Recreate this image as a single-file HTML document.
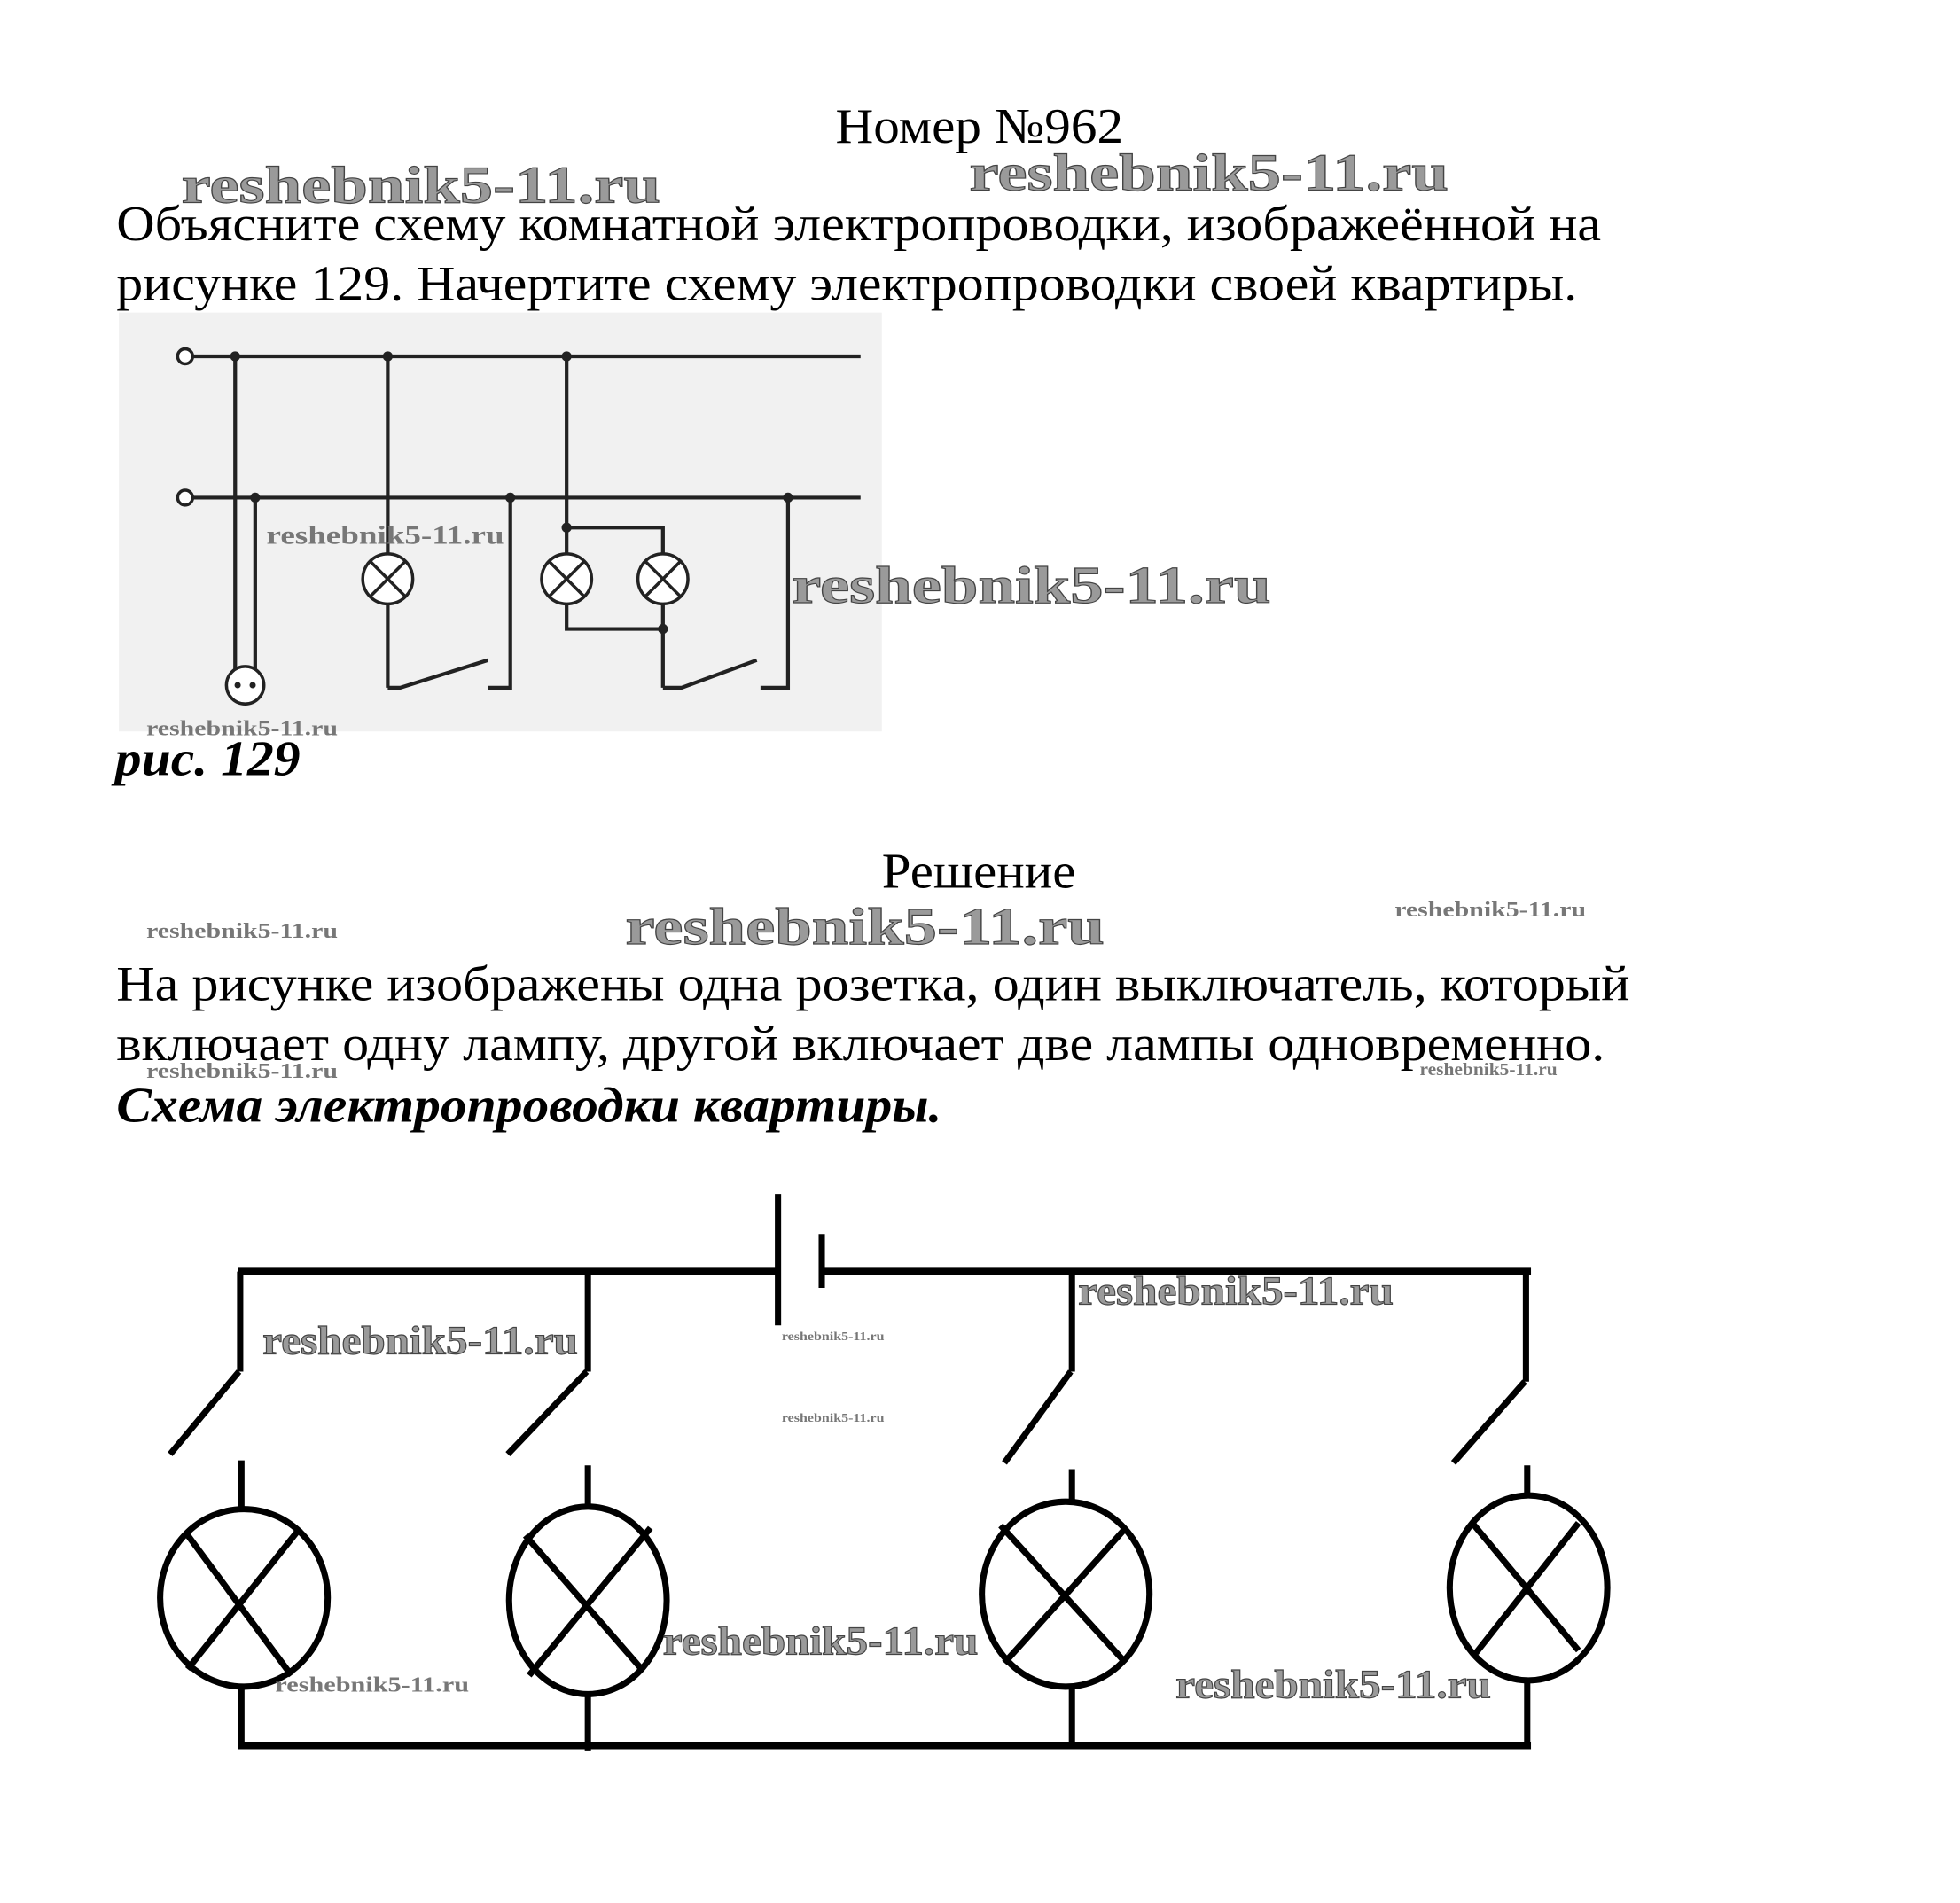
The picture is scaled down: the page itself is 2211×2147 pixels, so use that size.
<!DOCTYPE html>
<html><head><meta charset="utf-8"><style>
html,body{margin:0;padding:0;background:#fff}
svg{display:block}
.t{font-family:"Liberation Serif",serif;fill:#000}
.w{font-family:"Liberation Serif",serif;font-weight:bold;fill:#9a9a9a;stroke:#444;stroke-width:0.8}
.ws{font-family:"Liberation Serif",serif;font-weight:bold;fill:#777}
</style></head><body>
<svg width="2211" height="2147" viewBox="0 0 1567 1522" preserveAspectRatio="none" xmlns="http://www.w3.org/2000/svg">
<rect width="1567" height="1522" fill="#fff"/>
<text class="t" x="668" y="114" font-size="40" textLength="230" lengthAdjust="spacingAndGlyphs">Номер №962</text>
<text class="w" x="145" y="162" font-size="42" textLength="383" lengthAdjust="spacingAndGlyphs">reshebnik5-11.ru</text>
<text class="w" x="775" y="152" font-size="42" textLength="383" lengthAdjust="spacingAndGlyphs">reshebnik5-11.ru</text>
<text class="t" x="93" y="192" font-size="40" textLength="1187" lengthAdjust="spacingAndGlyphs">Объясните схему комнатной электропроводки, изображеённой на</text>
<text class="t" x="93" y="240" font-size="40" textLength="1168" lengthAdjust="spacingAndGlyphs">рисунке 129. Начертите схему электропроводки своей квартиры.</text>

<rect x="95" y="250" width="610" height="335" fill="#f1f1f1"/>
<g stroke="#222" stroke-width="3" fill="none">
<line x1="154" y1="285" x2="688" y2="285"/>
<line x1="154" y1="398" x2="688" y2="398"/>
<line x1="188" y1="285" x2="188" y2="535"/>
<line x1="204" y1="398" x2="204" y2="535"/>
<line x1="310" y1="285" x2="310" y2="443"/>
<line x1="310" y1="483" x2="310" y2="550"/>
<polyline points="310,550 320,550 390,528"/>
<polyline points="390,550 408,550 408,398"/>
<line x1="453" y1="285" x2="453" y2="443"/>
<polyline points="453,422 530,422 530,443"/>
<polyline points="453,483 453,503 530,503 530,483"/>
<line x1="530" y1="503" x2="530" y2="550"/>
<polyline points="530,550 545,550 605,528"/>
<polyline points="608,550 630,550 630,398"/>
</g>
<g stroke="#222" stroke-width="2.5" fill="#fff">
<circle cx="148" cy="285" r="6"/><circle cx="148" cy="398" r="6"/>
<circle cx="196" cy="548" r="15"/>
<circle cx="310" cy="463" r="20"/><circle cx="453" cy="463" r="20"/><circle cx="530" cy="463" r="20"/>
</g>
<g stroke="#222" stroke-width="2.5">
<line x1="296" y1="449" x2="324" y2="477"/><line x1="324" y1="449" x2="296" y2="477"/>
<line x1="439" y1="449" x2="467" y2="477"/><line x1="467" y1="449" x2="439" y2="477"/>
<line x1="516" y1="449" x2="544" y2="477"/><line x1="544" y1="449" x2="516" y2="477"/>
</g>
<g fill="#222"><circle cx="188" cy="285" r="4"/><circle cx="310" cy="285" r="4"/><circle cx="453" cy="285" r="4"/>
<circle cx="204" cy="398" r="4"/><circle cx="408" cy="398" r="4"/><circle cx="630" cy="398" r="4"/>
<circle cx="453" cy="422" r="4"/><circle cx="530" cy="503" r="4"/>
<circle cx="190" cy="548" r="2.5"/><circle cx="202" cy="548" r="2.5"/></g>
<text class="ws" x="213" y="435" font-size="21" textLength="190" lengthAdjust="spacingAndGlyphs">reshebnik5-11.ru</text>
<text class="w" x="633" y="482" font-size="42" textLength="383" lengthAdjust="spacingAndGlyphs">reshebnik5-11.ru</text>
<text class="ws" x="117" y="588" font-size="17" textLength="153" lengthAdjust="spacingAndGlyphs">reshebnik5-11.ru</text>
<text class="t" x="92" y="620" font-size="40" font-weight="bold" font-style="italic" textLength="148" lengthAdjust="spacingAndGlyphs">рис. 129</text>

<text class="t" x="705" y="710" font-size="40" textLength="155" lengthAdjust="spacingAndGlyphs">Решение</text>
<text class="ws" x="117" y="750" font-size="17" textLength="153" lengthAdjust="spacingAndGlyphs">reshebnik5-11.ru</text>
<text class="w" x="500" y="755" font-size="42" textLength="383" lengthAdjust="spacingAndGlyphs">reshebnik5-11.ru</text>
<text class="ws" x="1115" y="733" font-size="17" textLength="153" lengthAdjust="spacingAndGlyphs">reshebnik5-11.ru</text>
<text class="t" x="93" y="800" font-size="40" textLength="1210" lengthAdjust="spacingAndGlyphs">На рисунке изображены одна розетка, один выключатель, который</text>
<text class="t" x="93" y="848" font-size="40" textLength="1190" lengthAdjust="spacingAndGlyphs">включает одну лампу, другой включает две лампы одновременно.</text>
<text class="ws" x="117" y="862" font-size="17" textLength="153" lengthAdjust="spacingAndGlyphs">reshebnik5-11.ru</text>
<text class="ws" x="1135" y="860" font-size="14" textLength="110" lengthAdjust="spacingAndGlyphs">reshebnik5-11.ru</text>
<text class="t" x="93" y="897" font-size="40" font-weight="bold" font-style="italic" textLength="660" lengthAdjust="spacingAndGlyphs">Схема электропроводки квартиры.</text>

<g stroke="#000" stroke-width="5" fill="none">
<line x1="190" y1="1017" x2="622" y2="1017" stroke-width="6"/>
<line x1="657" y1="1017" x2="1224" y2="1017" stroke-width="6"/>
<line x1="622" y1="955" x2="622" y2="1060"/>
<line x1="657" y1="987" x2="657" y2="1030"/>
<line x1="190" y1="1396" x2="1224" y2="1396" stroke-width="6"/>
<line x1="192" y1="1017" x2="192" y2="1097"/>
<line x1="470" y1="1017" x2="470" y2="1097"/>
<line x1="857" y1="1017" x2="857" y2="1097"/>
<line x1="1220" y1="1017" x2="1220" y2="1105"/>
<line x1="191" y1="1097" x2="136" y2="1163"/>
<line x1="469" y1="1097" x2="406" y2="1163"/>
<line x1="856" y1="1097" x2="803" y2="1170"/>
<line x1="1219" y1="1105" x2="1162" y2="1170"/>
<line x1="193" y1="1168" x2="193" y2="1207"/>
<line x1="470" y1="1172" x2="470" y2="1206"/>
<line x1="857" y1="1175" x2="857" y2="1202"/>
<line x1="1221" y1="1172" x2="1221" y2="1197"/>
<line x1="193" y1="1350" x2="193" y2="1396"/>
<line x1="470" y1="1355" x2="470" y2="1400"/>
<line x1="857" y1="1350" x2="857" y2="1396"/>
<line x1="1221" y1="1345" x2="1221" y2="1396"/>
<ellipse cx="195" cy="1278" rx="67" ry="71"/>
<ellipse cx="470" cy="1280" rx="63" ry="75"/>
<ellipse cx="852" cy="1275" rx="67" ry="74"/>
<ellipse cx="1222" cy="1270" rx="63" ry="74"/>
<line x1="148" y1="1225" x2="233" y2="1340"/><line x1="240" y1="1222" x2="150" y2="1335"/>
<line x1="420" y1="1228" x2="513" y2="1335"/><line x1="520" y1="1222" x2="423" y2="1340"/>
<line x1="800" y1="1220" x2="900" y2="1330"/><line x1="900" y1="1222" x2="803" y2="1330"/>
<line x1="1177" y1="1218" x2="1262" y2="1320"/><line x1="1262" y1="1218" x2="1180" y2="1322"/>
</g>
<text class="w" x="210" y="1083" font-size="32" textLength="252" lengthAdjust="spacingAndGlyphs">reshebnik5-11.ru</text>
<text class="ws" x="625" y="1072" font-size="10" textLength="82" lengthAdjust="spacingAndGlyphs">reshebnik5-11.ru</text>
<text class="ws" x="625" y="1137" font-size="10" textLength="82" lengthAdjust="spacingAndGlyphs">reshebnik5-11.ru</text>
<text class="w" x="862" y="1043" font-size="32" textLength="252" lengthAdjust="spacingAndGlyphs">reshebnik5-11.ru</text>
<text class="w" x="530" y="1323" font-size="32" textLength="252" lengthAdjust="spacingAndGlyphs">reshebnik5-11.ru</text>
<text class="ws" x="220" y="1353" font-size="17" textLength="155" lengthAdjust="spacingAndGlyphs">reshebnik5-11.ru</text>
<text class="w" x="940" y="1358" font-size="32" textLength="252" lengthAdjust="spacingAndGlyphs">reshebnik5-11.ru</text>
</svg>
</body></html>
